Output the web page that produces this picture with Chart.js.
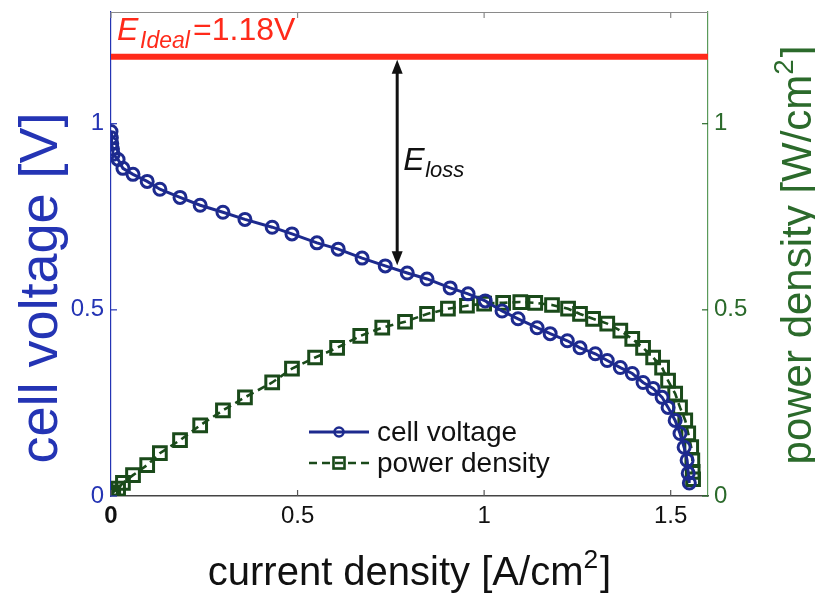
<!DOCTYPE html>
<html><head><meta charset="utf-8">
<script src="https://cdn.jsdelivr.net/npm/chart.js@4.4.1/dist/chart.umd.min.js"></script>
<style>html,body{margin:0;padding:0;background:#fff;}#wrap{width:815px;height:593px;}</style>
</head><body><div id="wrap"><canvas id="c" width="815" height="593"></canvas></div>
<script>
// ---- data ----
const currentV = [0, 0.001, 0.002, 0.004, 0.006, 0.019, 0.032, 0.059, 0.097, 0.131, 0.185, 0.239, 0.300, 0.359, 0.432, 0.485, 0.552, 0.609, 0.673, 0.735, 0.794, 0.847, 0.909, 0.957, 1.003, 1.048, 1.091, 1.142, 1.177, 1.223, 1.257, 1.298, 1.330, 1.365, 1.397, 1.426, 1.453, 1.477, 1.493, 1.512, 1.525, 1.536, 1.544, 1.547, 1.550];
const cellVoltage = [0.979, 0.962, 0.946, 0.932, 0.918, 0.904, 0.880, 0.864, 0.845, 0.824, 0.802, 0.781, 0.762, 0.743, 0.722, 0.704, 0.680, 0.663, 0.639, 0.618, 0.599, 0.583, 0.559, 0.543, 0.524, 0.497, 0.476, 0.452, 0.436, 0.417, 0.398, 0.382, 0.364, 0.345, 0.329, 0.305, 0.289, 0.265, 0.238, 0.203, 0.168, 0.131, 0.096, 0.061, 0.035];
const currentP = [0, 0.001, 0.003, 0.006, 0.019, 0.032, 0.059, 0.097, 0.131, 0.185, 0.239, 0.300, 0.359, 0.432, 0.485, 0.547, 0.606, 0.668, 0.727, 0.788, 0.847, 0.903, 0.954, 1.000, 1.051, 1.097, 1.137, 1.182, 1.225, 1.257, 1.292, 1.330, 1.365, 1.397, 1.426, 1.453, 1.477, 1.493, 1.512, 1.525, 1.539, 1.547, 1.555, 1.558, 1.559, 1.560];
const powerDensity = [0.000, 0.002, 0.005, 0.010, 0.020, 0.035, 0.056, 0.083, 0.115, 0.150, 0.190, 0.230, 0.265, 0.305, 0.342, 0.372, 0.398, 0.430, 0.452, 0.468, 0.489, 0.503, 0.511, 0.517, 0.519, 0.521, 0.519, 0.513, 0.503, 0.489, 0.476, 0.463, 0.444, 0.422, 0.398, 0.372, 0.345, 0.310, 0.275, 0.238, 0.203, 0.168, 0.131, 0.096, 0.065, 0.045];
const xTicks = [0, 0.5, 1, 1.5];
const yTicks = [0, 0.5, 1];
const y1Ticks = [0, 0.5, 1];
const seriesNames = ['cell voltage', 'power density'];
const eIdeal = 1.18;          // V
const lossX = 0.767;          // A/cm2, position of the E_loss arrow
const lossBottom = 0.62;      // V, lower end of the arrow
const xTitle = ['current density [A/cm', '2', ']'];
const yTitle = ['cell voltage [V]'];
const y1Title = ['power density [W/cm', '2', ']'];

// ---- styling ----
const FF = "'Liberation Sans', Arial, Helvetica, sans-serif";
const BLUE = '#1d2a8e', BLUE_AX = '#2434b4';
const GREEN = '#1a4a1a', GREEN_AX = '#2b6a2b';
const RED = '#ff2a1a';

function pts(xs, ys){ return xs.map((x,i)=>({x:x, y:ys[i]})); }

function drawRich(ctx, parts, size, color){
  let w = 0;
  const segs = parts.map((t,i)=>{
    const sup = (i===1 && parts.length===3);
    const fs = sup ? size*0.66 : size;
    ctx.font = fs + 'px ' + FF;
    const tw = ctx.measureText(t).width;
    const s = {t, fs, dy: sup ? -size*0.42 : 0, x:w, tw};
    w += tw + (sup ? 2 : 0);
    return s;
  });
  return {w, draw:(x0,y0)=>{
    ctx.fillStyle = color; ctx.textBaseline='alphabetic'; ctx.textAlign='left';
    segs.forEach(s=>{ ctx.font = s.fs+'px '+FF; ctx.fillText(s.t, x0+s.x, y0+s.dy); });
  }};
}

function noPad(s){ s.paddingTop = 0; s.paddingBottom = 0; s.paddingLeft = 0; s.paddingRight = 0; }

const decor = {
  id: 'decor',
  afterDraw(chart){
    const ctx = chart.ctx, a = chart.chartArea;
    const sx = chart.scales.x, sy = chart.scales.y, sy1 = chart.scales.y1;
    ctx.save();
    // top border
    ctx.strokeStyle = '#8a8a8a'; ctx.lineWidth = 1.2;
    ctx.beginPath(); ctx.moveTo(a.left, a.top+0.5); ctx.lineTo(a.right, a.top+0.5); ctx.stroke();
    // inside tick marks
    xTicks.forEach(v=>{
      const px = sx.getPixelForValue(v);
      ctx.strokeStyle = '#555';
      ctx.beginPath(); ctx.moveTo(px, a.bottom); ctx.lineTo(px, a.bottom-6); ctx.stroke();
      ctx.strokeStyle = '#8a8a8a';
      ctx.beginPath(); ctx.moveTo(px, a.top); ctx.lineTo(px, a.top+6); ctx.stroke();
    });
    yTicks.forEach(v=>{
      const py = sy.getPixelForValue(v);
      ctx.strokeStyle = BLUE_AX;
      ctx.beginPath(); ctx.moveTo(a.left, py); ctx.lineTo(a.left+6, py); ctx.stroke();
    });
    y1Ticks.forEach(v=>{
      const py = sy1.getPixelForValue(v);
      ctx.strokeStyle = GREEN_AX;
      ctx.beginPath(); ctx.moveTo(a.right, py); ctx.lineTo(a.right-6, py); ctx.stroke();
    });

    // E_loss arrow
    const ax = sx.getPixelForValue(lossX);
    const yTop = sy.getPixelForValue(eIdeal) + 3;
    const yBot = sy.getPixelForValue(lossBottom);
    ctx.strokeStyle = '#111'; ctx.fillStyle = '#111'; ctx.lineWidth = 3;
    ctx.beginPath(); ctx.moveTo(ax, yTop+12); ctx.lineTo(ax, yBot-12); ctx.stroke();
    ctx.beginPath(); ctx.moveTo(ax, yTop); ctx.lineTo(ax-5.5, yTop+14); ctx.lineTo(ax+5.5, yTop+14); ctx.closePath(); ctx.fill();
    ctx.beginPath(); ctx.moveTo(ax, yBot); ctx.lineTo(ax-5.5, yBot-14); ctx.lineTo(ax+5.5, yBot-14); ctx.closePath(); ctx.fill();

    // E_ideal label
    ctx.textAlign = 'left'; ctx.textBaseline = 'alphabetic';
    ctx.fillStyle = RED;
    ctx.font = 'italic 32px ' + FF; ctx.fillText('E', a.left+6, 40);
    ctx.font = 'italic 23px ' + FF; ctx.fillText('Ideal', a.left+29, 48);
    ctx.font = '32px ' + FF; ctx.fillText('=1.18V', a.left+82, 40);

    // E_loss label
    ctx.fillStyle = '#111';
    ctx.font = 'italic 32px ' + FF; ctx.fillText('E', ax+6, 170);
    ctx.font = 'italic 22px ' + FF; ctx.fillText('loss', ax+28, 177);

    // legend
    const ds = chart.data.datasets;
    const rows = [{d:ds[0], y:432}, {d:ds[1], y:463}];
    rows.forEach(r=>{
      const d = r.d;
      ctx.strokeStyle = d.borderColor; ctx.lineWidth = d.borderWidth;
      ctx.setLineDash(d.borderDash || []);
      ctx.beginPath(); ctx.moveTo(309, r.y); ctx.lineTo(369, r.y); ctx.stroke();
      ctx.setLineDash([]);
      ctx.lineWidth = 2.6;
      const cx = 339;
      if (d.pointStyle === 'circle') {
        ctx.beginPath(); ctx.arc(cx, r.y, 4.5, 0, Math.PI*2); ctx.stroke();
      } else {
        ctx.strokeRect(cx-5.5, r.y-5.5, 11, 11);
      }
      ctx.fillStyle = '#111'; ctx.font = '28px ' + FF; ctx.textBaseline = 'middle';
      ctx.fillText(d.label, 377, r.y+1);
      ctx.textBaseline = 'alphabetic';
    });

    // axis titles
    const xt = drawRich(ctx, xTitle, 40, '#111');
    xt.draw((a.left+a.right)/2 - xt.w/2, 585);

    ctx.save();
    ctx.translate(57, 288); ctx.rotate(-Math.PI/2);
    const yt = drawRich(ctx, yTitle, 54, BLUE_AX);
    yt.draw(-yt.w/2, 0);
    ctx.restore();

    ctx.save();
    ctx.translate(811, 255); ctx.rotate(-Math.PI/2);
    const y1t = drawRich(ctx, y1Title, 42, GREEN_AX);
    y1t.draw(-y1t.w/2, 0);
    ctx.restore();

    ctx.restore();
  }
};

new Chart(document.getElementById('c'), {
  type: 'line',
  data: { datasets: [
    { label: seriesNames[0], data: pts(currentV, cellVoltage), yAxisID: 'y',
      borderColor: BLUE, borderWidth: 3, pointStyle: 'circle', pointRadius: 6,
      pointBorderWidth: 3, pointBorderColor: BLUE, pointBackgroundColor: 'rgba(255,255,255,0)', order: 1 },
    { label: seriesNames[1], data: pts(currentP, powerDensity), yAxisID: 'y1',
      borderColor: GREEN, borderWidth: 2.6, borderDash: [8,5], pointStyle: 'rect', pointRadius: 9,
      pointBorderWidth: 3, pointBorderColor: GREEN, pointBackgroundColor: 'rgba(255,255,255,0)', order: 2 },
    { label: 'E ideal', data: [{x:0, y:eIdeal}, {x:1.6, y:eIdeal}], yAxisID: 'y',
      borderColor: RED, borderWidth: 6, pointRadius: 0, order: 3 }
  ]},
  options: {
    responsive: false, animation: false, devicePixelRatio: 1,
    layout: { padding: { top: 10, left: 0, right: 0, bottom: 0 } },
    plugins: { legend: { display: false }, tooltip: { enabled: false } },
    elements: { line: { tension: 0 } },
    scales: {
      x: { type: 'linear', min: 0, max: 1.6, position: 'bottom',
        afterBuildTicks: s => { s.ticks = xTicks.map(v => ({value: v})); },
        afterFit: s => { s.height = 97; noPad(s); },
        grid: { display: false, drawTicks: false },
        border: { display: true, color: '#444', width: 1.5 },
        ticks: { color: '#111', padding: 6, maxRotation: 0, autoSkip: false,
          font: c => ({ family: FF, size: 24, weight: (c.tick && c.tick.value === 0) ? 'bold' : 'normal' }),
          callback: v => String(v) } },
      y: { type: 'linear', min: 0, max: 1.3, position: 'left',
        afterBuildTicks: s => { s.ticks = yTicks.map(v => ({value: v})); },
        afterFit: s => { s.width = 111; noPad(s); },
        grid: { display: false, drawTicks: false },
        border: { display: true, color: BLUE_AX, width: 1.2 },
        ticks: { color: BLUE_AX, padding: 7, font: { family: FF, size: 24 }, callback: v => String(v) } },
      y1: { type: 'linear', min: 0, max: 1.3, position: 'right',
        afterBuildTicks: s => { s.ticks = y1Ticks.map(v => ({value: v})); },
        afterFit: s => { s.width = 107; noPad(s); },
        grid: { display: false, drawTicks: false },
        border: { display: true, color: '#5a9a5a', width: 1.2 },
        ticks: { color: GREEN_AX, padding: 6, font: { family: FF, size: 24 }, callback: v => String(v) } }
    }
  },
  plugins: [decor]
});
</script></body></html>
